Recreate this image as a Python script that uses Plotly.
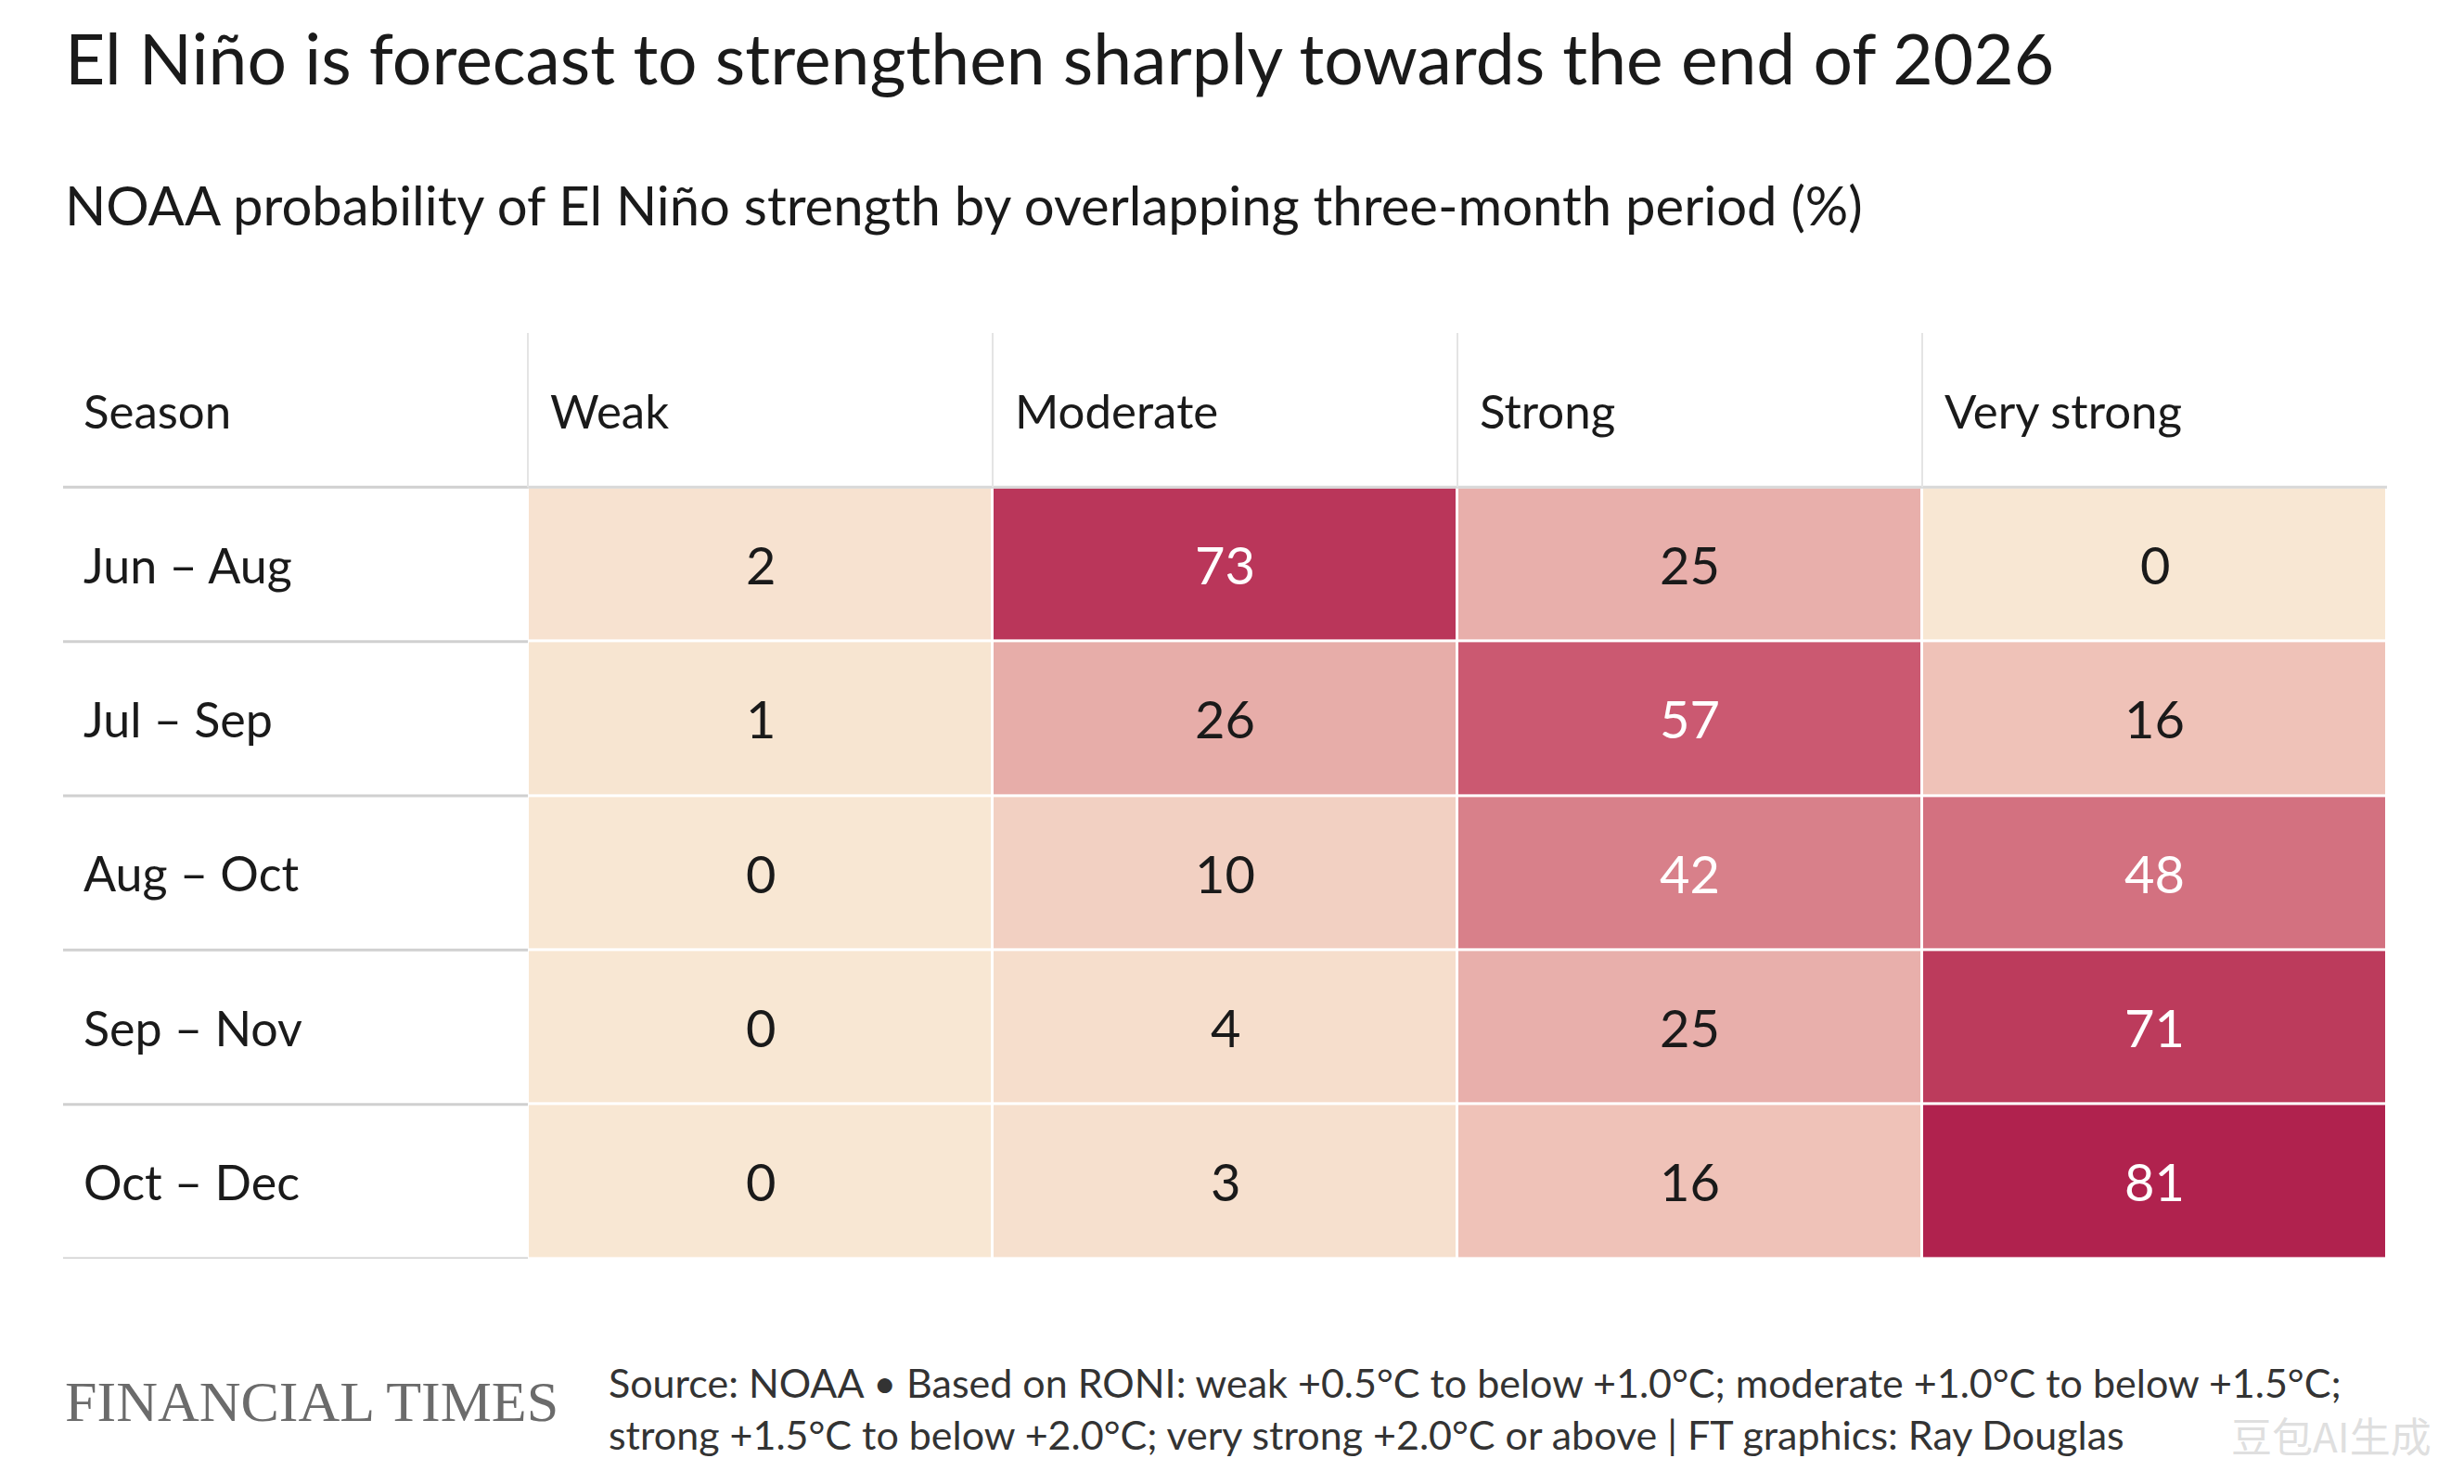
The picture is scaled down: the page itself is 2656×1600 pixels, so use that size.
import plotly.graph_objects as go

# data
seasons = ["Jun – Aug", "Jul – Sep", "Aug – Oct", "Sep – Nov", "Oct – Dec"]
strengths = ["Weak", "Moderate", "Strong", "Very strong"]
weak = [2, 1, 0, 0, 0]
moderate = [73, 26, 10, 4, 3]
strong = [25, 57, 42, 25, 16]
very_strong = [0, 16, 48, 71, 81]

title = "El Niño is forecast to strengthen sharply towards the end of 2026"
subtitle = "NOAA probability of El Niño strength by overlapping three-month period (%)"
source_1 = "Source: NOAA • Based on RONI: weak +0.5°C to below +1.0°C; moderate +1.0°C to below +1.5°C;"
source_2 = "strong +1.5°C to below +2.0°C; very strong +2.0°C or above | FT graphics: Ray Douglas"

FONT = "Lato"
INK = "#1a1a1a"

# rows = seasons, columns = strength classes
z = [list(r) for r in zip(weak, moderate, strong, very_strong)]
col_x = list(range(len(strengths)))
row_y = list(range(len(seasons)))

colorscale = [
    [0.00, "#f8e7d3"],
    [0.20, "#efc2b8"],
    [0.31, "#e8afab"],
    [0.52, "#d8808a"],
    [0.70, "#cb5a71"],
    [0.88, "#bc3a5c"],
    [1.00, "#b0224e"],
]

fig = go.Figure()

fig.add_trace(go.Heatmap(
    x=col_x,
    y=row_y,
    z=z,
    zmin=0,
    zmax=81,
    colorscale=colorscale,
    showscale=False,
    xgap=3,
    ygap=3,
    hoverinfo='skip'
))

annotations = []

# cell values
for i, row in enumerate(z):
    for j, v in enumerate(row):
        annotations.append(dict(
            x=col_x[j], y=row_y[i], xref='x', yref='y',
            text=str(v), showarrow=False,
            font=dict(family=FONT, size=56, color="white" if v >= 40 else INK)
        ))

# season labels (first column)
for i, s in enumerate(seasons):
    annotations.append(dict(
        x=-1.5, y=row_y[i], xref='x', yref='y', xanchor='left', xshift=20,
        text=s, showarrow=False,
        font=dict(family=FONT, size=52, color=INK)
    ))

# header row
headers = ["Season"] + strengths
for k, h in enumerate(headers):
    annotations.append(dict(
        x=k - 1.5, y=-1, xref='x', yref='y', xanchor='left', xshift=(20 if k == 0 else 22),
        text=h, showarrow=False,
        font=dict(family=FONT, size=51, color=INK)
    ))

# titles and footer
annotations += [
    dict(x=0, y=1.298, xref='paper', yref='paper', xanchor='left', yanchor='middle',
         text=title, showarrow=False, font=dict(family=FONT, size=75, color=INK)),
    dict(x=0, y=1.139, xref='paper', yref='paper', xanchor='left', yanchor='middle',
         text=subtitle, showarrow=False, font=dict(family=FONT, size=58, color=INK)),
    dict(x=0, y=-0.154, xref='paper', yref='paper', xanchor='left', yanchor='middle',
         text="FINANCIAL TIMES", showarrow=False,
         font=dict(family="Liberation Serif", size=62, color="#6b6b6b")),
    dict(x=0.234, y=-0.134, xref='paper', yref='paper', xanchor='left', yanchor='middle',
         text=source_1, showarrow=False, font=dict(family=FONT, size=43, color="#333333")),
    dict(x=0.234, y=-0.190, xref='paper', yref='paper', xanchor='left', yanchor='middle',
         text=source_2, showarrow=False, font=dict(family=FONT, size=43, color="#333333")),
    dict(x=1.02, y=-0.19, xref='paper', yref='paper', xanchor='right', yanchor='middle',
         text="豆包AI生成", showarrow=False,
         font=dict(family="Noto Sans CJK SC", size=44, color="rgba(215,215,215,0.8)")),
]

# table rules
shapes = []
for b in range(len(seasons) + 1):
    shapes.append(dict(type='line', xref='x', yref='y', x0=-1.5, x1=-0.5,
                       y0=b - 0.5, y1=b - 0.5, line=dict(color="#d0d0d0", width=3)))
shapes.append(dict(type='line', xref='x', yref='y', x0=-0.5, x1=3.5,
                   y0=-0.5, y1=-0.5, line=dict(color="#d8d8d8", width=3)))
for b in range(len(strengths)):
    shapes.append(dict(type='line', xref='x', yref='y', x0=b - 0.5, x1=b - 0.5,
                       y0=-1.5, y1=-0.5, line=dict(color="#e4e4e4", width=2)))

fig.update_layout(
    width=2656,
    height=1600,
    margin=dict(l=60, r=91, t=351, b=251),
    paper_bgcolor="white",
    plot_bgcolor="white",
    xaxis=dict(range=[-1.5, 3.5], visible=False, fixedrange=True),
    yaxis=dict(range=[4.5, -1.5], visible=False, fixedrange=True),
    annotations=annotations,
    shapes=shapes,
    showlegend=False
)

fig.write_html("out.html")
